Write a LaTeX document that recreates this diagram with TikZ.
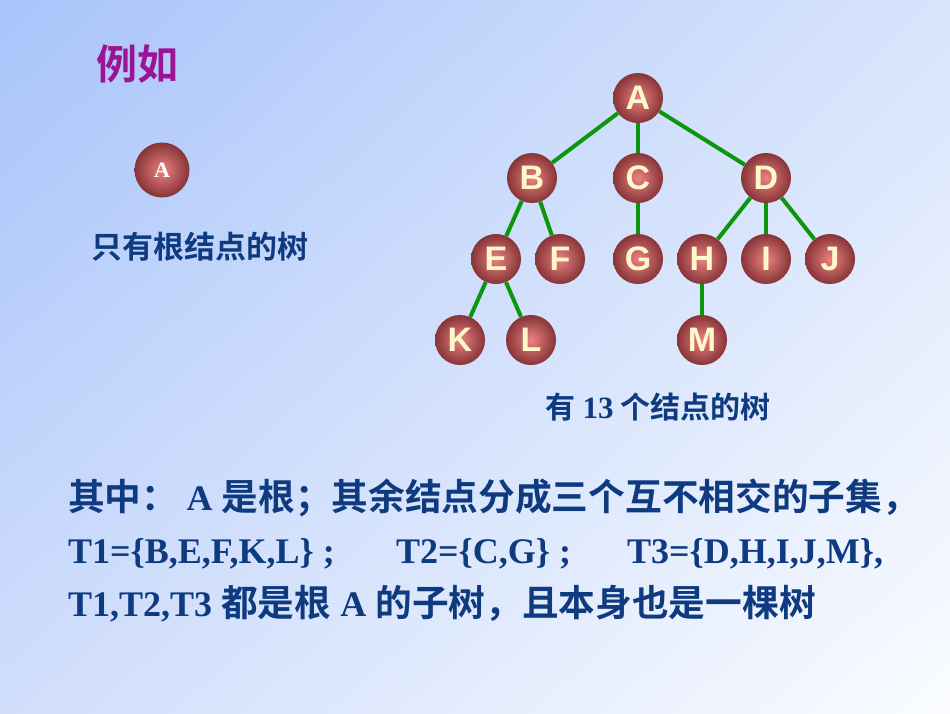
\documentclass[tikz,border=0pt]{standalone}
\usepackage{fontspec}
\usetikzlibrary{shadings}
\setmainfont{Liberation Serif}
\newfontfamily\cjk{Noto Sans CJK SC}[BoldFont={* Bold}]
\newfontfamily\arialb{Liberation Sans}
\definecolor{bgtl}{RGB}{168,196,250}
\definecolor{bgtr}{RGB}{216,228,252}
\definecolor{bgbl}{RGB}{208,222,252}
\definecolor{bgbr}{RGB}{250,252,255}
\definecolor{txtblue}{RGB}{14,58,128}
\definecolor{purp}{RGB}{155,20,150}
\definecolor{edgegreen}{RGB}{12,150,12}
\definecolor{ballin}{RGB}{235,130,130}
\definecolor{ballout}{RGB}{135,52,55}
\definecolor{cream}{RGB}{255,248,200}
\newcommand\bigcjk{\cjk\bfseries\fontsize{36.7}{36.7}\selectfont}
\tikzset{
  ball/.style={circle, minimum size=50pt, inner sep=0pt, shading=radial,
    inner color=ballin, outer color=ballout, text=cream,
    font=\arialb\bfseries\fontsize{34}{34}\selectfont},
  edge/.style={draw=edgegreen, line width=4pt},
  cn/.style={text=txtblue, font=\cjk\bfseries\fontsize{31}{31}\selectfont, inner sep=0pt},
  bl/.style={text=txtblue, anchor=base west, inner sep=0pt, font=\bfseries\fontsize{36}{36}\selectfont}
}
\begin{document}
\begin{tikzpicture}[x=1pt,y=-1pt]
\useasboundingbox (0,0) rectangle (950,713);
\shade[upper left=bgtl, upper right=bgtr, lower left=bgbl, lower right=bgbr] (0,0) rectangle (950,713);
% title
\node[text=purp, font=\cjk\bfseries\fontsize{41}{41}\selectfont, inner sep=0] (title) at (137,64) {例如};
% single node tree
\node[ball, minimum size=55pt, text=white, font=\bfseries\fontsize{22}{22}\selectfont] (s) at (162,170) {A};
\node[cn] (cap1) at (200,247) {只有根结点的树};
% tree
\node[ball] (A) at (638,98) {A};
\node[ball] (B) at (532,178) {B};
\node[ball] (C) at (638,178) {C};
\node[ball] (D) at (766,178) {D};
\node[ball] (E) at (496,259) {E};
\node[ball] (F) at (560,259) {F};
\node[ball] (G) at (638,259) {G};
\node[ball] (H) at (702,259) {H};
\node[ball] (I) at (766,259) {I};
\node[ball] (J) at (830,259) {J};
\node[ball] (K) at (460,340) {K};
\node[ball] (L) at (531,340) {L};
\node[ball] (M) at (702,340) {M};
\foreach \a/\b in {A/B,A/C,A/D,B/E,B/F,C/G,D/H,D/I,D/J,E/K,E/L,H/M}
  \draw[edge] (\a) -- (\b);
\node[cn, font=\cjk\bfseries\fontsize{30}{30}\selectfont] (cap2) at (658,407) {有 {\rmfamily\fontsize{31}{31}\selectfont 13} 个结点的树};
% bottom text
\node[bl] (l1) at (68,510) {\bigcjk 其中：\ \rmfamily\bfseries\fontsize{36}{36}\selectfont A \bigcjk 是根；其余结点分成三个互不相交的子集，};
\node[bl] (l2a) at (68,563) {T1=\{B,E,F,K,L\} ;};
\node[bl] (l2b) at (396,563) {T2=\{C,G\} ;};
\node[bl] (l2c) at (627,563) {T3=\{D,H,I,J,M\},};
\node[bl] (l3) at (68,616) {T1,T2,T3 {\bigcjk 都是根} A {\bigcjk 的子树，且本身也是一棵树}};
\end{tikzpicture}
\end{document}
